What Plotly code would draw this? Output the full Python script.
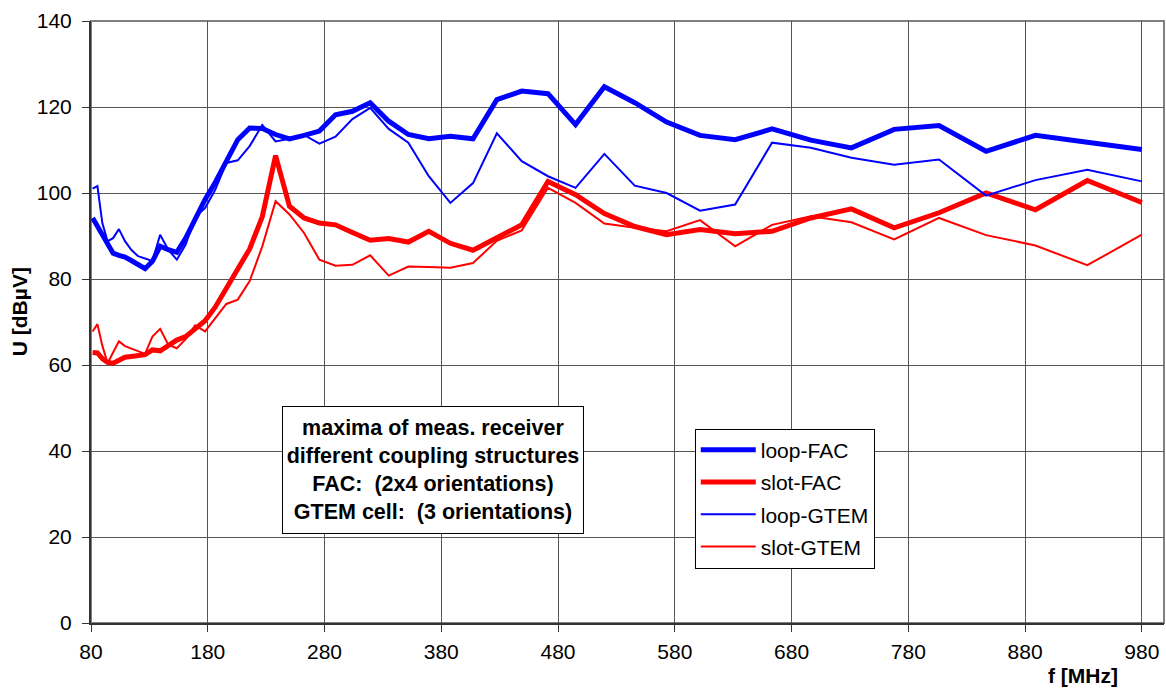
import plotly.graph_objects as go

# Frequencies [MHz]
freq = [81.4, 85.5, 89.7, 94.2, 98.9, 103.9, 109.1, 114.5, 120.3, 126.3,
        132.6, 139.2, 146.2, 153.5, 161.1, 169.2, 177.7, 186.5, 195.9, 205.7,
        215.9, 226.7, 238.1, 250.0, 262.5, 275.6, 289.4, 303.9, 319.1, 335.0,
        351.8, 369.3, 387.8, 407.2, 427.6, 448.9, 471.4, 495.0, 519.7, 545.7,
        573.0, 601.6, 631.7, 663.3, 696.5, 731.3, 767.9, 806.3, 846.6, 888.9,
        933.3, 980.0]

# U [dBuV]
loop_fac = [94.2, 92.2, 90.2, 87.8, 86.0, 85.5, 85.1, 84.3, 83.3, 82.4,
            84.1, 87.6, 86.8, 86.2, 89.5, 94.0, 98.5, 102.5, 107.3, 112.4,
            115.1, 115.0, 113.6, 112.6, 113.4, 114.4, 118.2, 119.0, 121.0, 116.7,
            113.6, 112.6, 113.2, 112.6, 121.7, 123.7, 123.1, 115.9, 124.7, 121.0,
            116.5, 113.4, 112.4, 114.9, 112.3, 110.5, 114.8, 115.7, 109.7, 113.4,
            111.8, 110.1]

slot_fac = [62.9, 62.8, 61.5, 60.6, 60.4, 61.2, 61.8, 62.0, 62.2, 62.4,
            63.5, 63.3, 64.5, 65.8, 66.6, 68.4, 70.3, 73.5, 77.8, 82.5,
            87.0, 94.5, 108.7, 96.9, 94.2, 93.0, 92.6, 90.8, 89.0, 89.4,
            88.6, 91.1, 88.3, 86.7, 89.5, 92.6, 102.7, 99.6, 95.2, 92.2,
            90.3, 91.5, 90.5, 91.1, 94.2, 96.3, 91.9, 95.4, 100.0, 96.1,
            102.9, 97.8]

loop_gtem = [101.0, 101.6, 93.0, 88.8, 89.5, 91.6, 88.8, 86.8, 85.3, 84.7,
             84.2, 90.3, 86.8, 84.5, 88.0, 94.5, 96.5, 100.8, 107.0, 107.6,
             110.9, 115.8, 112.0, 112.6, 113.5, 111.5, 113.1, 117.2, 119.8, 114.9,
             111.7, 103.9, 97.7, 102.3, 113.9, 107.4, 103.9, 101.2, 109.1, 101.7,
             100.0, 95.9, 97.3, 111.7, 110.5, 108.2, 106.6, 107.8, 99.4, 103.0,
             105.4, 102.7]

slot_gtem = [67.8, 69.5, 64.5, 60.4, 62.9, 65.5, 64.4, 63.8, 63.2, 62.6,
             66.6, 68.4, 64.7, 63.9, 66.0, 69.2, 67.8, 71.0, 74.2, 75.2,
             79.5, 87.6, 98.1, 95.0, 90.7, 84.5, 83.1, 83.3, 85.5, 80.8,
             82.9, 82.8, 82.6, 83.7, 88.9, 91.3, 101.2, 97.7, 92.9, 91.9,
             91.1, 93.7, 87.6, 92.6, 94.6, 93.2, 89.2, 94.2, 90.2, 87.8,
             83.2, 90.3]

series_names = ["loop-FAC", "slot-FAC", "loop-GTEM", "slot-GTEM"]
series_values = [loop_fac, slot_fac, loop_gtem, slot_gtem]
series_colors = ["#0000FF", "#FF0000", "#0000FF", "#FF0000"]
series_widths = [5, 5, 2, 2]

x_ticks = [80, 180, 280, 380, 480, 580, 680, 780, 880, 980]
y_ticks = [0, 20, 40, 60, 80, 100, 120, 140]

FONT = "Liberation Sans, Arial, sans-serif"

fig = go.Figure()
for name, vals, col, w in zip(series_names, series_values, series_colors, series_widths):
    fig.add_trace(go.Scatter(x=freq, y=vals, mode="lines", name=name,
                             legendgroup=name,
                             line=dict(color=col, width=w)))

fig.update_layout(
    width=1166, height=688,
    margin=dict(l=91, r=2, t=21, b=65),
    paper_bgcolor="white", plot_bgcolor="white",
    font=dict(family=FONT, size=21, color="black"),
    showlegend=True,
    legend=dict(x=0.5627, y=0.3230, xanchor="left", yanchor="top",
                bgcolor="white", bordercolor="black", borderwidth=1,
                font=dict(family=FONT, size=21, color="black"),
                tracegroupgap=2, itemwidth=55),
    xaxis=dict(range=[80, 999], tickvals=x_ticks, ticktext=[str(v) for v in x_ticks],
               showgrid=True, gridcolor="#555555", gridwidth=1,
               ticks="outside", ticklen=7, tickcolor="#333333",
               showline=True, linecolor="#333333", linewidth=2,
               zeroline=False, tickfont=dict(size=21), ticklabelstandoff=2),
    yaxis=dict(range=[0, 140], tickvals=y_ticks,
               showgrid=True, gridcolor="#555555", gridwidth=1,
               ticks="outside", ticklen=7, tickcolor="#333333",
               showline=True, linecolor="#333333", linewidth=2,
               zeroline=False, tickfont=dict(size=21), ticklabelstandoff=6),
)

# plot area border (right side gray)
fig.add_shape(type="rect", xref="paper", yref="paper", x0=0, x1=1, y0=0, y1=1,
              line=dict(color="#808080", width=2), layer="below")

# axis titles
fig.add_annotation(text="<b>f [MHz]</b>", xref="paper", yref="paper",
                   x=0.9245, y=-0.0864, xanchor="center", yanchor="middle",
                   showarrow=False, font=dict(family=FONT, size=21))
fig.add_annotation(text="<b>U [dBµV]</b>", xref="paper", yref="paper",
                   x=-0.0667, y=0.517, xanchor="center", yanchor="middle",
                   textangle=-90, showarrow=False, font=dict(family=FONT, size=21))

# info box
fig.add_annotation(
    text="<b>maxima of meas. receiver<br>different coupling structures<br>"
         "FAC:  (2x4 orientations)<br>GTEM cell:  (3 orientations)</b>",
    xref="paper", yref="paper", x=0.3184, y=0.2544,
    xanchor="center", yanchor="middle", showarrow=False, align="center",
    bgcolor="white", bordercolor="black", borderwidth=1, borderpad=3,
    width=294, height=120,
    font=dict(family=FONT, size=21.5, color="black"))

fig.write_html("out.html",
               config={"displayModeBar": False},
               post_script="document.body.style.margin='0px';"
                           "document.body.style.overflow='hidden';")
